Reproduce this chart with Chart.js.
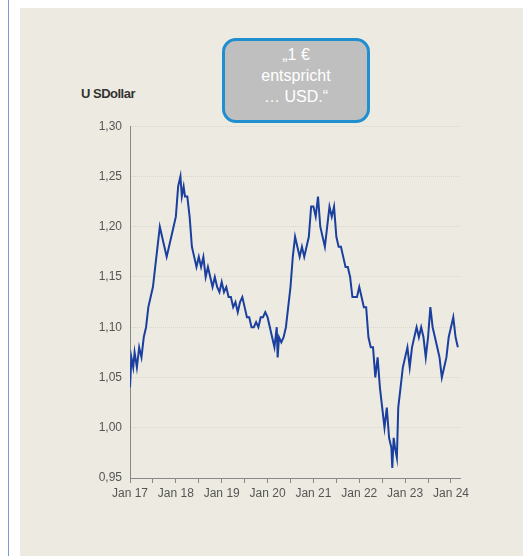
<!DOCTYPE html>
<html><head><meta charset="utf-8">
<script src="https://cdn.jsdelivr.net/npm/chart.js@4"></script>
<style>
body{margin:0;background:#fff;font-family:"Liberation Sans",Arial,sans-serif;}
#line{position:absolute;left:8px;top:0;width:1px;height:556px;background:#7a9ad6;}
#panel{position:absolute;left:20px;top:8px;width:503px;height:548px;background:#edebe1;}
#wrap{position:absolute;left:70px;top:111px;width:402px;height:397px;}
#unit{position:absolute;left:81px;top:86px;font-size:13px;font-weight:bold;color:#333;letter-spacing:-0.5px;}
#box{position:absolute;left:222px;top:38px;width:148px;height:85px;background:#bfbfbf;border:3px solid #1f8fd0;border-radius:14px;color:#fff;font-size:16px;text-align:center;line-height:21px;padding-top:3px;box-sizing:border-box;}
</style></head><body>
<div id="line"></div><div id="panel"></div>
<div id="unit">U SDollar</div>
<div id="wrap"><canvas id="c"></canvas></div>
<div id="box">„1 €<br>entspricht<br>… USD.“</div>
<script>
const dates = [2017.0,2017.03,2017.07,2017.1,2017.15,2017.2,2017.25,2017.3,2017.35,2017.4,2017.45,2017.5,2017.55,2017.6,2017.65,2017.7,2017.75,2017.8,2017.85,2017.9,2017.95,2018.0,2018.05,2018.1,2018.13,2018.17,2018.2,2018.25,2018.3,2018.35,2018.4,2018.45,2018.5,2018.55,2018.6,2018.65,2018.7,2018.75,2018.8,2018.85,2018.9,2018.95,2019.0,2019.05,2019.1,2019.15,2019.2,2019.25,2019.3,2019.35,2019.4,2019.45,2019.5,2019.55,2019.6,2019.65,2019.7,2019.75,2019.8,2019.85,2019.9,2019.95,2020.0,2020.05,2020.1,2020.15,2020.2,2020.22,2020.25,2020.3,2020.35,2020.4,2020.45,2020.5,2020.55,2020.6,2020.65,2020.7,2020.75,2020.8,2020.85,2020.9,2020.95,2021.0,2021.05,2021.1,2021.15,2021.2,2021.25,2021.3,2021.35,2021.4,2021.45,2021.5,2021.55,2021.6,2021.65,2021.7,2021.75,2021.8,2021.85,2021.9,2021.95,2022.0,2022.05,2022.1,2022.15,2022.2,2022.25,2022.3,2022.35,2022.4,2022.45,2022.5,2022.55,2022.6,2022.65,2022.7,2022.72,2022.75,2022.78,2022.82,2022.85,2022.9,2022.95,2023.0,2023.05,2023.1,2023.15,2023.2,2023.25,2023.3,2023.35,2023.4,2023.45,2023.5,2023.55,2023.6,2023.65,2023.7,2023.75,2023.8,2023.85,2023.9,2023.95,2024.0,2024.05,2024.1,2024.15];
const usd = [1.04,1.07,1.06,1.075,1.06,1.08,1.07,1.09,1.1,1.12,1.13,1.14,1.16,1.18,1.2,1.19,1.18,1.17,1.18,1.19,1.2,1.21,1.24,1.25,1.23,1.24,1.23,1.23,1.21,1.18,1.17,1.16,1.17,1.16,1.17,1.15,1.16,1.15,1.14,1.15,1.14,1.135,1.145,1.135,1.14,1.13,1.13,1.12,1.125,1.115,1.125,1.13,1.12,1.11,1.11,1.1,1.1,1.105,1.1,1.11,1.11,1.115,1.11,1.1,1.09,1.08,1.1,1.07,1.09,1.085,1.09,1.1,1.12,1.14,1.17,1.19,1.18,1.17,1.18,1.17,1.18,1.19,1.22,1.22,1.21,1.23,1.2,1.19,1.18,1.2,1.22,1.21,1.22,1.19,1.18,1.18,1.17,1.16,1.16,1.15,1.13,1.13,1.13,1.14,1.13,1.12,1.12,1.09,1.08,1.08,1.05,1.07,1.04,1.02,1.0,1.02,0.99,0.98,0.96,0.99,0.98,0.97,1.02,1.04,1.06,1.07,1.08,1.06,1.08,1.09,1.1,1.09,1.1,1.09,1.07,1.09,1.12,1.1,1.09,1.08,1.07,1.05,1.06,1.07,1.09,1.1,1.11,1.09,1.08,1.07,1.095];
const yTicks = [0.95,1.0,1.05,1.1,1.15,1.2,1.25,1.3];

new Chart(document.getElementById('c'), {
  type: 'line',
  data: {
    datasets: [{
      data: dates.map((d, i) => ({x: d, y: usd[i]})),
      borderColor: '#1a3f9e',
      borderWidth: 2,
      pointRadius: 0,
      tension: 0
    }]
  },
  options: {
    responsive: true,
    maintainAspectRatio: false,
    animation: false,
    layout: {padding: {top: 10, right: 0}},
    plugins: {legend: {display: false}, tooltip: {enabled: false}},
    scales: {
      x: {
        type: 'linear', min: 2017, max: 2024.2,
        afterFit: s => { s.height = 30; },
        grid: {drawOnChartArea: false, color: '#888', tickLength: 5},
        border: {color: '#888'},
        afterBuildTicks: s => { s.ticks = []; for (let v = 2017; v <= 2024; v += 0.5) s.ticks.push({value: v}); },
        ticks: {
          autoSkip: false, maxRotation: 0, color: '#555', font: {size: 12, family: 'Liberation Sans'},
          callback: v => Number.isInteger(v) ? 'Jan ' + String(v).slice(2) : ''
        }
      },
      y: {
        min: 0.95, max: 1.3,
        afterFit: s => { s.width = 60; },
        afterBuildTicks: s => { s.ticks = yTicks.map(v => ({value: v})); },
        grid: {color: '#d8d6cc', drawTicks: false},
        border: {color: '#888', dash: [1, 1]},
        ticks: {color: '#555', padding: 8, font: {size: 12, family: 'Liberation Sans'},
          callback: v => v.toFixed(2).replace('.', ',')}
      }
    }
  }
});
</script></body></html>
